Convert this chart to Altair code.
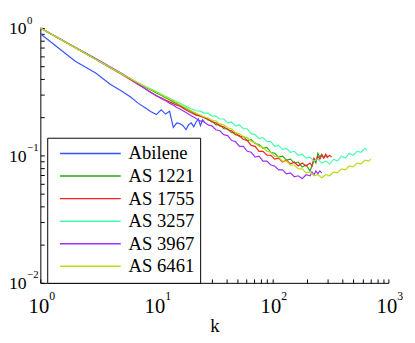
import altair as alt
import pandas as pd

FONT = "Liberation Serif"

series = ["Abilene", "AS 1221", "AS 1755", "AS 3257", "AS 3967", "AS 6461"]
colors = ["#3355ff", "#22aa11", "#ff2020", "#44ffaa", "#9933ff", "#bbdd11"]

major_x = [1, 10, 100, 1000]
major_y = [0.01, 0.1, 1]
ticks_x = [1, 2, 3, 4, 5, 6, 7, 8, 9, 10, 20, 30, 40, 50, 60, 70, 80, 90,
           100, 200, 300, 400, 500, 600, 700, 800, 900, 1000]
ticks_y = [0.01, 0.02, 0.03, 0.04, 0.05, 0.06, 0.07, 0.08, 0.09,
           0.1, 0.2, 0.3, 0.4, 0.5, 0.6, 0.7, 0.8, 0.9, 1]

abilene_k = [1, 2, 3, 4, 5, 6, 7, 8, 9, 10, 11, 12, 13, 14, 15, 16, 17, 18, 19,
             20, 21, 22, 23, 24, 25, 26]
abilene_v = [0.90, 0.548, 0.443, 0.362, 0.320, 0.287, 0.256, 0.237, 0.220, 0.209,
             0.228, 0.211, 0.222, 0.166, 0.180, 0.177, 0.171, 0.159, 0.174, 0.180,
             0.168, 0.183, 0.193, 0.171, 0.190, 0.183]

k_early = [1, 2, 3, 4, 5, 6, 7, 8, 9, 10, 11, 12, 13, 14, 15, 16, 18, 20, 22]
k_mid = [23.9, 25.8, 27.9, 30.1, 32.6, 35.2, 38.1, 41.2, 44.5, 48.1, 52.0, 56.2,
         60.8, 65.7, 71.0, 76.7, 83.0, 89.7, 96.9, 104.8, 113.2, 122.4, 132.4,
         143.1, 154.6, 167.2, 180.7, 195.4, 211.2]

as1221_k = k_early + k_mid + [219.5, 228.3, 237.3, 246.8, 256.6, 266.8, 277.3, 288.4, 299.9]
as1221_v = [1.0, 0.701, 0.569, 0.490, 0.437, 0.398, 0.368, 0.345, 0.326, 0.309,
            0.296, 0.283, 0.273, 0.263, 0.254, 0.246, 0.233, 0.221, 0.211,
            0.2036, 0.2000, 0.1897, 0.1864, 0.1737, 0.1737, 0.1618, 0.1618, 0.1508,
            0.1508, 0.1404, 0.1404, 0.1308, 0.1332, 0.1241, 0.1219, 0.1136, 0.1156,
            0.1058, 0.1039, 0.0969, 0.0986, 0.0918, 0.0935, 0.0871, 0.0887, 0.0812,
            0.0841, 0.0756, 0.0826, 0.0918, 0.0871, 0.1039, 0.0969, 0.1021, 0.0952,
            0.1003, 0.0952]

as1755_k = k_early + k_mid + [219.5, 228.3, 237.3, 246.8, 256.6, 266.8, 277.3, 288.4,
                              299.9, 311.8, 324.1]
as1755_v = [1.0, 0.700, 0.567, 0.488, 0.434, 0.392, 0.358, 0.335, 0.312, 0.293,
            0.283, 0.272, 0.263, 0.255, 0.248, 0.243, 0.227, 0.216, 0.207,
            0.2036, 0.1965, 0.1931, 0.1831, 0.1799, 0.1706, 0.1676, 0.1590, 0.1562,
            0.1455, 0.1429, 0.1332, 0.1308, 0.1198, 0.1177, 0.1077, 0.1077, 0.1003,
            0.1003, 0.0935, 0.0952, 0.0887, 0.0918, 0.0856, 0.0887, 0.0826, 0.0871,
            0.0826, 0.0871, 0.0826, 0.0952, 0.0902, 0.0986, 0.0935, 0.1003, 0.0952,
            0.1021, 0.0969, 0.1003, 0.0969]

as3257_k = k_early + k_mid + [228.3, 246.8, 266.8, 288.4, 311.8, 336.9, 364.2, 393.7,
                              425.6, 460.0, 497.3, 537.6, 581.2, 628.3, 653.0]
as3257_v = [1.0, 0.702, 0.570, 0.491, 0.438, 0.400, 0.370, 0.348, 0.331, 0.317,
            0.303, 0.291, 0.281, 0.272, 0.264, 0.257, 0.243, 0.232, 0.224,
            0.2224, 0.2147, 0.2147, 0.2036, 0.2036, 0.1931, 0.1931, 0.1799, 0.1831,
            0.1706, 0.1737, 0.1618, 0.1618, 0.1481, 0.1455, 0.1356, 0.1380, 0.1285,
            0.1285, 0.1177, 0.1198, 0.1116, 0.1136, 0.1058, 0.1077, 0.1003, 0.1021,
            0.0952, 0.0969, 0.0902, 0.0935, 0.0871, 0.0902, 0.0856, 0.0935, 0.0902,
            0.0986, 0.0952, 0.1039, 0.1003, 0.1077, 0.1058, 0.1136, 0.1096]

as3967_k = k_early + k_mid + [219.5, 228.3, 237.3, 246.8, 256.6, 266.8]
as3967_v = [1.0, 0.705, 0.575, 0.497, 0.441, 0.398, 0.362, 0.334, 0.312, 0.295,
            0.280, 0.268, 0.257, 0.247, 0.238, 0.231, 0.217, 0.205, 0.195,
            0.1864, 0.1831, 0.1737, 0.1706, 0.1590, 0.1562, 0.1455, 0.1429, 0.1308,
            0.1285, 0.1177, 0.1177, 0.1077, 0.1058, 0.0969, 0.0986, 0.0902, 0.0902,
            0.0841, 0.0826, 0.0770, 0.0770, 0.0717, 0.0730, 0.0680, 0.0692, 0.0657,
            0.0705, 0.0692, 0.0743, 0.0705, 0.0756, 0.0717, 0.0756, 0.0730]

as6461_k = k_early + k_mid + [228.3, 246.8, 266.8, 288.4, 311.8, 336.9, 364.2, 393.7,
                              425.6, 460.0, 497.3, 537.6, 581.2, 628.3, 679.2, 706.0]
as6461_v = [1.0, 0.701, 0.569, 0.491, 0.438, 0.400, 0.370, 0.347, 0.329, 0.314,
            0.300, 0.289, 0.278, 0.268, 0.259, 0.251, 0.237, 0.224, 0.214,
            0.2072, 0.2000, 0.1965, 0.1897, 0.1864, 0.1768, 0.1737, 0.1647, 0.1618,
            0.1508, 0.1481, 0.1404, 0.1380, 0.1285, 0.1263, 0.1177, 0.1156, 0.1077,
            0.1058, 0.0986, 0.0969, 0.0902, 0.0902, 0.0841, 0.0841, 0.0783, 0.0783,
            0.0730, 0.0743, 0.0692, 0.0705, 0.0668, 0.0705, 0.0692, 0.0743, 0.0730,
            0.0783, 0.0770, 0.0826, 0.0812, 0.0871, 0.0856, 0.0918, 0.0902, 0.0935]

all_k = [abilene_k, as1221_k, as1755_k, as3257_k, as3967_k, as6461_k]
all_v = [abilene_v, as1221_v, as1755_v, as3257_v, as3967_v, as6461_v]

rows = []
for s, ks, vs in zip(series, all_k, all_v):
    for i, (k, v) in enumerate(zip(ks, vs)):
        rows.append({"series": s, "k": k, "v": v, "i": i})
df = pd.DataFrame(rows)

x_scale = alt.Scale(type="log", domain=[1, 1000], nice=False)
y_scale = alt.Scale(type="log", domain=[0.01, 1], nice=False)

lines = alt.Chart(df).mark_line(strokeWidth=1.2).encode(
    x=alt.X("k:Q", scale=x_scale, axis=alt.Axis(
        orient="bottom", values=major_x, labelExpr="'10'", ticks=False, tickSize=0,
        domain=True, domainColor="black", domainWidth=1, grid=False,
        labelFont=FONT, labelFontSize=21, labelColor="black",
        labelBaseline="alphabetic", labelAlign="center", labelPadding=30, labelOffset=-2,
        labelFlush=False, labelOverlap=False,
        title="k", titleFont=FONT, titleFontSize=19, titleFontWeight="normal",
        titleColor="black", titleBaseline="alphabetic", titleY=50)),
    y=alt.Y("v:Q", scale=y_scale, axis=alt.Axis(
        orient="left", values=major_y, labelExpr="'10'", ticks=False, tickSize=0,
        domain=True, domainColor="black", domainWidth=1, grid=False,
        labelFont=FONT, labelFontSize=18, labelColor="black",
        labelAlign="right", labelBaseline="alphabetic", labelPadding=14.5, labelOffset=6,
        labelFlush=False, labelOverlap=False, title=None)),
    color=alt.Color("series:N", scale=alt.Scale(domain=series, range=colors),
                    legend=alt.Legend(
                        title=None, orient="none", legendX=7, legendY=112,
                        symbolType="stroke", symbolSize=3844, symbolStrokeWidth=1.5,
                        clipHeight=22.2, rowPadding=0, padding=5, symbolOffset=7,
                        labelOffset=7, labelFont=FONT, labelFontSize=19,
                        labelColor="black", labelLimit=0, strokeColor="black",
                        fillColor="white", cornerRadius=0)),
    order="i:Q",
)

exps = alt.Chart(df).mark_line(strokeOpacity=0).encode(
    x=alt.X("k:Q", scale=x_scale, axis=alt.Axis(
        orient="bottom", values=major_x,
        labelExpr="'' + round(log(datum.value) / LN10)",
        ticks=False, tickSize=0, domain=False, grid=False,
        labelFont=FONT, labelFontSize=12, labelColor="black",
        labelAlign="left", labelBaseline="alphabetic", labelPadding=17.5, labelOffset=8.5,
        labelFlush=False, labelOverlap=False, title=None)),
    y=alt.Y("v:Q", scale=y_scale, axis=alt.Axis(
        orient="left", values=major_y,
        labelExpr="datum.value < 0.5 ? '\u2212' + round(-log(datum.value) / LN10) : '0'",
        ticks=False, tickSize=0, domain=False, grid=False,
        labelFont=FONT, labelFontSize=11, labelColor="black",
        labelAlign="left", labelBaseline="alphabetic", labelPadding=14, labelOffset=-5,
        labelFlush=False, labelOverlap=False, title=None)),
    detail="series:N",
)

tick_layer = alt.Chart(df).mark_line(strokeOpacity=0).encode(
    x=alt.X("k:Q", scale=x_scale, axis=alt.Axis(
        orient="top", offset=-260, values=ticks_x, labels=False, domain=False,
        ticks=True, tickSize=4, tickColor="black", tickWidth=1, grid=False, title=None)),
    y=alt.Y("v:Q", scale=y_scale, axis=alt.Axis(
        orient="right", offset=-355, values=ticks_y, labels=False, domain=False,
        ticks=True, tickSize=4, tickColor="black", tickWidth=1, grid=False, title=None)),
    detail="series:N",
)

chart = alt.layer(lines, exps, tick_layer).resolve_axis(
    x="independent", y="independent"
).properties(
    width=355, height=260,
    padding={"left": 33, "top": 17, "right": 19, "bottom": 58},
    autosize=alt.AutoSizeParams(type="none"),
).configure(background="white").configure_view(stroke=None)

chart.save("out.html", embed_options={"renderer": "svg", "actions": False})
